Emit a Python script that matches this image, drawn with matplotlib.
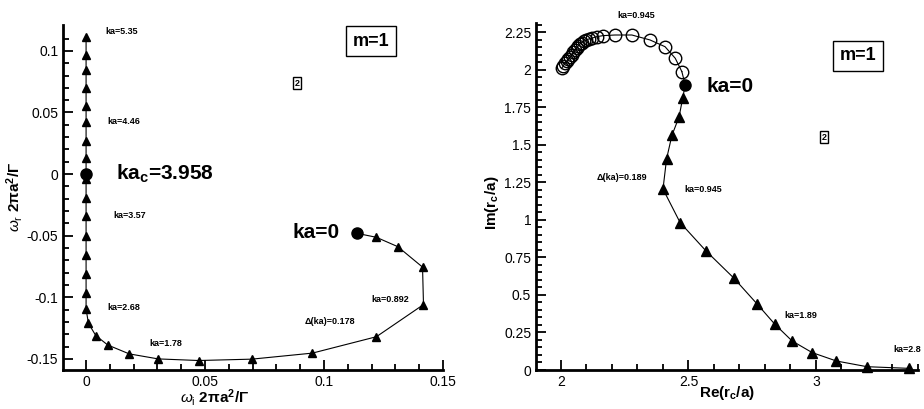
import numpy as np
import matplotlib.pyplot as plt

plt.rcParams['font.family'] = ['Liberation Sans', 'DejaVu Sans']
plt.rcParams['mathtext.fontset'] = 'custom'
plt.rcParams['mathtext.rm'] = 'Liberation Sans'
plt.rcParams['mathtext.bf'] = 'Liberation Sans:bold'
plt.rcParams['mathtext.it'] = 'Liberation Sans:italic'

# left panel: complex frequency, ka from 0 up to 5.35 (step 0.178)
wi = [0.1139, 0.122, 0.131, 0.1414, 0.1418, 0.122, 0.0951, 0.0696, 0.0473,
      0.0303, 0.0181, 0.0091, 0.0041, 0.001, 0.0, 0.0, 0.0, 0.0, 0.0, 0.0,
      0.0, 0.0, 0.0, 0.0, 0.0, 0.0, 0.0, 0.0, 0.0, 0.0]
wr = [-0.0481, -0.0513, -0.0589, -0.0755, -0.1059, -0.132, -0.1453, -0.1502,
      -0.1513, -0.150, -0.1459, -0.1387, -0.1311, -0.1212, -0.1096, -0.0962,
      -0.0808, -0.0655, -0.0505, -0.0339, -0.0191, -0.004, 0.0131, 0.0272,
      0.0422, 0.0556, 0.0701, 0.0844, 0.0965, 0.111]
wi_c, wr_c = 0.0, 0.0          # ka_c = 3.958

# right panel: critical-layer position
re_up = [2.487, 2.474, 2.448, 2.408, 2.349, 2.278, 2.212, 2.166, 2.14, 2.12,
         2.108, 2.098, 2.089, 2.081, 2.074, 2.068, 2.062, 2.055, 2.048,
         2.042, 2.036, 2.029, 2.022, 2.016, 2.009, 2.003]
im_up = [1.90, 1.989, 2.078, 2.155, 2.20, 2.233, 2.233, 2.229, 2.222, 2.211,
         2.206, 2.20, 2.19, 2.182, 2.172, 2.16, 2.147, 2.133, 2.117,
         2.10, 2.085, 2.071, 2.058, 2.045, 2.028, 2.011]
re_lo = [2.487, 2.477, 2.463, 2.435, 2.414, 2.40, 2.467, 2.569, 2.677, 2.768,
         2.838, 2.906, 2.985, 3.08, 3.2, 3.364]
im_lo = [1.90, 1.81, 1.687, 1.564, 1.407, 1.206, 0.983, 0.793, 0.614, 0.442,
         0.306, 0.194, 0.116, 0.06, 0.022, 0.011]

W, H = 924, 409
fig = plt.figure(figsize=(W / 100, H / 100), dpi=100)


def px(x, y):
    return x / W, 1 - y / H


def style(ax):
    for s in ['top', 'right']:
        ax.spines[s].set_visible(False)
    for s in ['left', 'bottom']:
        ax.spines[s].set_linewidth(2)
    ax.tick_params(which='both', direction='in', width=1.3, labelsize=10)
    ax.tick_params(which='major', length=7)
    ax.tick_params(which='minor', length=4)
    ax.patch.set_alpha(0)


# ---- left panel
ax1 = fig.add_axes([63 / W, 1 - 370 / H, (443 - 63) / W, (370 - 25) / H])
style(ax1)
ax1.plot(wi[1:], wr[1:], '-^', color='k', lw=0.8, ms=6, clip_on=False)
ax1.plot([wi[0], wi[1]], [wr[0], wr[1]], '-', color='k', lw=0.8)
ax1.plot(wi[0], wr[0], 'o', color='k', ms=8)
ax1.plot(wi_c, wr_c, 'o', color='k', ms=8, zorder=5)
ax1.set_xlim(-0.0097, 0.15)
ax1.set_ylim(-0.159, 0.121)
ax1.set_xticks([0, 0.05, 0.1, 0.15])
ax1.set_xticklabels(['0', '0.05', '0.1', '0.15'])
ax1.set_xticks(np.arange(-0.0, 0.151, 0.01), minor=True)
ax1.set_yticks([-0.15, -0.1, -0.05, 0, 0.05, 0.1])
ax1.set_yticklabels(['-0.15', '-0.1', '-0.05', '0', '0.05', '0.1'])
ax1.set_yticks(np.arange(-0.15, 0.12, 0.01), minor=True)

small = dict(fontsize=6.5, fontweight='bold', ha='center', va='center')
for (x, y), s in [((122, 31), 'ka=5.35'), ((124, 121), 'ka=4.46'),
                  ((130, 215), 'ka=3.57'), ((124, 307), 'ka=2.68'),
                  ((390, 299), 'ka=0.892'), ((330, 322), 'Δ(ka)=0.178'),
                  ((166, 344), 'ka=1.78')]:
    fig.text(*px(x, y), s, **small)
fig.text(*px(165, 174), r'ka$_\mathbf{c}$=3.958', fontsize=15,
         fontweight='bold', ha='center', va='center')
fig.text(*px(316, 233), 'ka=0', fontsize=15, fontweight='bold',
         ha='center', va='center')
fig.text(*px(371, 41), 'm=1', fontsize=13, fontweight='bold', ha='center',
         va='center', bbox=dict(boxstyle='square,pad=0.35', fc='white',
                                ec='k', lw=1))
fig.text(*px(297, 83), '2', fontsize=6.5, fontweight='bold', ha='center',
         va='center', bbox=dict(boxstyle='square,pad=0.2', fc='white',
                                ec='k', lw=1))
fig.text(*px(215, 398), r'$\omega_{\mathrm{i}}$ $\mathbf{2\pi a^2/\Gamma}$',
         fontsize=11, ha='center', va='center')
fig.text(*px(15, 197), r'$\omega_{\mathrm{r}}$ $\mathbf{2\pi a^2/\Gamma}$',
         fontsize=11, ha='center', va='center', rotation=90)

# ---- right panel
ax2 = fig.add_axes([536 / W, 1 - 370 / H, (918 - 536) / W, (370 - 23) / H])
style(ax2)
ax2.plot(re_up[1:], im_up[1:], '-o', color='k', mfc='none', lw=0.8, ms=9,
         mew=1)
ax2.plot(re_up[:2], im_up[:2], '-', color='k', lw=0.8)
ax2.plot(re_lo[1:], im_lo[1:], '-^', color='k', lw=0.8, ms=7, clip_on=False)
ax2.plot(re_lo[:2], im_lo[:2], '-', color='k', lw=0.8)
ax2.plot(re_lo[0], im_lo[0], 'o', color='k', ms=8)
ax2.set_xlim(1.902, 3.40)
ax2.set_ylim(0, 2.313)
ax2.set_xticks([2, 2.5, 3])
ax2.set_xticklabels(['2', '2.5', '3'])
ax2.set_xticks(np.arange(2.0, 3.41, 0.1), minor=True)
ax2.set_yticks(np.arange(0, 2.26, 0.25))
ax2.set_yticklabels(['0', '0.25', '0.5', '0.75', '1', '1.25', '1.5', '1.75',
                     '2', '2.25'])
ax2.set_yticks(np.arange(0, 2.31, 0.05), minor=True)

for (x, y), s in [((636, 16), 'ka=0.945'), ((622, 177), 'Δ(ka)=0.189'),
                  ((703, 190), 'ka=0.945'), ((801, 315), 'ka=1.89')]:
    fig.text(*px(x, y), s, **small)
fig.text(*px(921, 350), 'ka=2.8', fontsize=6.5, fontweight='bold',
         ha='right', va='center')
fig.text(*px(730, 86), 'ka=0', fontsize=15, fontweight='bold',
         ha='center', va='center')
fig.text(*px(858, 56), 'm=1', fontsize=13, fontweight='bold', ha='center',
         va='center', bbox=dict(boxstyle='square,pad=0.35', fc='white',
                                ec='k', lw=1))
fig.text(*px(824, 137), '2', fontsize=6.5, fontweight='bold', ha='center',
         va='center', bbox=dict(boxstyle='square,pad=0.2', fc='white',
                                ec='k', lw=1))
fig.text(*px(727, 393), r'Re(r$_\mathbf{c}$/a)', fontsize=11,
         fontweight='bold', ha='center', va='center')
fig.text(*px(492, 203), r'Im(r$_\mathbf{c}$/a)', fontsize=11,
         fontweight='bold', ha='center', va='center', rotation=90)

fig.savefig('out.png', dpi=100)
